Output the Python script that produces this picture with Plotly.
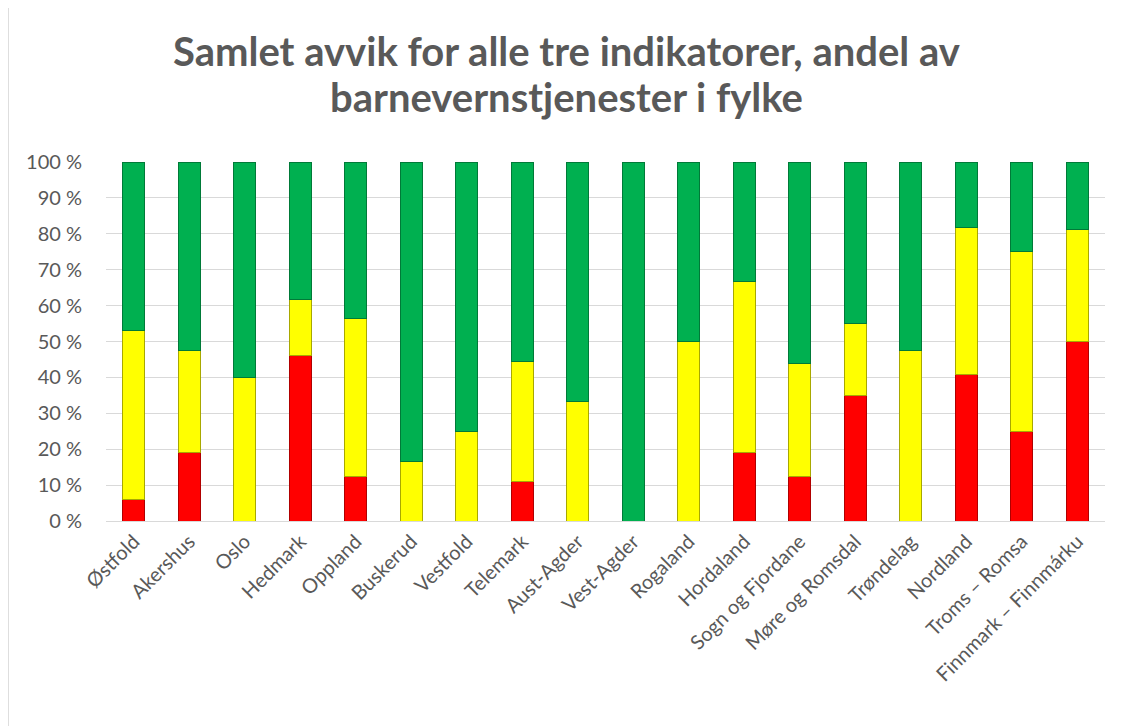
import plotly.graph_objects as go

fylker = [
    "Østfold", "Akershus", "Oslo", "Hedmark", "Oppland", "Buskerud", "Vestfold",
    "Telemark", "Aust-Agder", "Vest-Agder", "Rogaland", "Hordaland",
    "Sogn og Fjordane", "Møre og Romsdal", "Trøndelag", "Nordland",
    "Troms – Romsa", "Finnmark – Finnmárku",
]
# andel (%) per fylke, lest av figuren
rod = [5.9, 19.0, 0, 46.2, 12.5, 0, 0, 11.1, 0, 0, 0, 19.0, 12.5, 35.0, 0, 40.9, 25.0, 50.0]
gul = [47.1, 28.6, 40.0, 15.4, 43.8, 16.7, 25.0, 33.3, 33.3, 0, 50.0, 47.6, 31.3, 20.0, 47.6, 40.9, 50.0, 31.3]
gronn = [47.0, 52.4, 60.0, 38.4, 43.7, 83.3, 75.0, 55.6, 66.7, 100, 50.0, 33.4, 56.2, 45.0, 52.4, 18.2, 25.0, 18.7]
y_ticks = list(range(0, 101, 10))
y_labels = [f"{v} %" for v in y_ticks]
tittel = ["Samlet avvik for alle tre indikatorer, andel av", "barnevernstjenester i fylke"]

TXT = "#595959"
FONT = "Lato"

fig = go.Figure()
for name, vals, fill, edge in [
    ("Rød", rod, "#FF0000", "#B00000"),
    ("Gul", gul, "#FFFF00", "#A8A800"),
    ("Grønn", gronn, "#00B050", "#007A38"),
]:
    fig.add_trace(go.Bar(x=fylker, y=vals, name=name, marker_color=fill,
                         marker_line=dict(color=edge, width=1)))

# siden får 8px body-marg i nettleseren, derfor 1117x718
fig.update_layout(
    barmode="stack",
    bargap=0.61,
    width=1117, height=718,
    margin=dict(l=98, r=20, t=154, b=205),
    paper_bgcolor="white", plot_bgcolor="white",
    showlegend=False,
    font=dict(family=FONT, color=TXT, size=20),
)
for linje, ypos in zip(tittel, [1.308, 1.18]):
    fig.add_annotation(text=f"<b>{linje}</b>", xref="paper", yref="paper",
                       x=0.4605, y=ypos, xanchor="center", yanchor="middle",
                       showarrow=False, font=dict(family=FONT, size=40, color=TXT))

fig.update_yaxes(
    range=[0, 100], tickmode="array", tickvals=y_ticks, ticktext=y_labels,
    showgrid=True, gridcolor="#D9D9D9", gridwidth=1,
    zeroline=True, zerolinecolor="#D9D9D9", zerolinewidth=1,
    ticklabelstandoff=23, fixedrange=True,
)
fig.update_xaxes(tickangle=-45, showgrid=False, ticklabelstandoff=4)

# lys ramme rundt diagramområdet
fig.add_shape(type="rect", xref="paper", yref="paper",
              x0=-0.098, x1=1.03, y0=-0.6, y1=1.434,
              line=dict(color="#D9D9D9", width=1.5), layer="above")

fig.write_html("out.html")
